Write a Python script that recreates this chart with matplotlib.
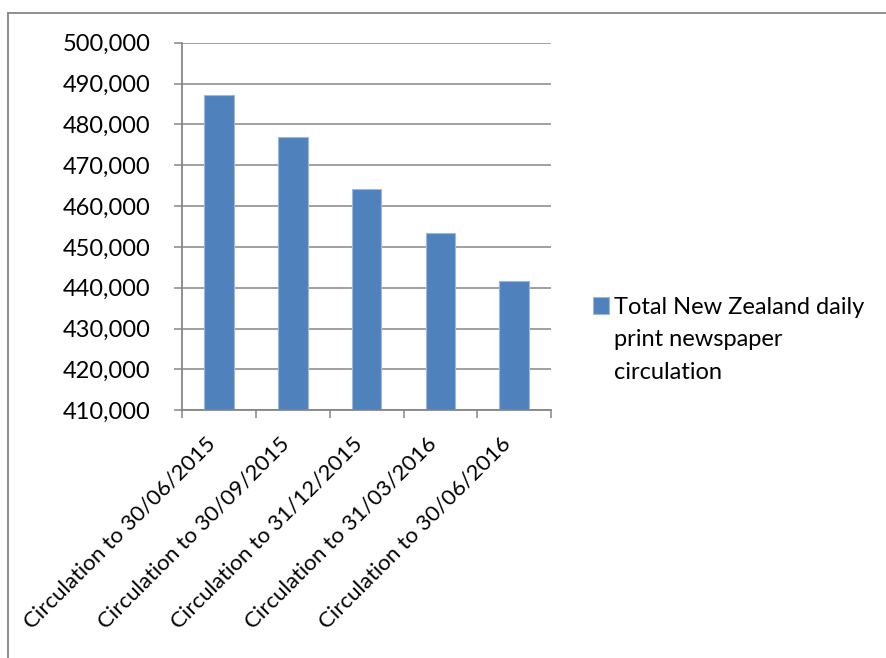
import matplotlib.pyplot as plt
from matplotlib.lines import Line2D
from matplotlib.ticker import FuncFormatter, MultipleLocator
import matplotlib.transforms as mtransforms

categories = [
    "Circulation to 30/06/2015",
    "Circulation to 30/09/2015",
    "Circulation to 31/12/2015",
    "Circulation to 31/03/2016",
    "Circulation to 30/06/2016",
]
circulation = [487100, 476800, 464200, 453300, 441700]
series_label = "Total New Zealand daily\nprint newspaper\ncirculation"

plt.rcParams["font.family"] = ["Lato", "DejaVu Sans"]
grey = "#868686"
bar_color = "#4F81BD"

fig = plt.figure(figsize=(8.87, 6.58), dpi=100)
ax = fig.add_axes([0.2055, 0.3764, 0.4157, 0.5587])

x = list(range(len(categories)))
bars = ax.bar(x, circulation, width=0.4, color=bar_color,
              edgecolor="#9BB8DE", linewidth=0.8, zorder=3)

ax.set_ylim(410000, 500000)
ax.set_xlim(-0.5, len(categories) - 0.5)
ax.yaxis.set_major_locator(MultipleLocator(10000))
ax.yaxis.set_major_formatter(FuncFormatter(lambda v, p: f"{v:,.0f}"))
ax.grid(axis="y", color=grey, linewidth=1.1, zorder=1)
ax.set_axisbelow(True)

for side in ["top", "right"]:
    ax.spines[side].set_visible(False)
for side in ["left", "bottom"]:
    ax.spines[side].set_color(grey)
    ax.spines[side].set_linewidth(1.3)
    ax.spines[side].set_zorder(4)

ax.tick_params(axis="y", length=6, width=1.1, color=grey, pad=17,
               labelsize=17, labelcolor="black")

# category labels at centres, tick marks at category boundaries
ax.set_xticks(x)
ax.set_xticklabels(categories, rotation=45, ha="right", va="center",
                   rotation_mode="anchor", fontsize=16)
ax.tick_params(axis="x", which="major", length=0, pad=22)
ax.set_xticks([i - 0.5 for i in range(len(categories) + 1)], minor=True)
ax.tick_params(axis="x", which="minor", length=6, width=1.1, color=grey)
shift = mtransforms.ScaledTranslation(-0.07, 0, fig.dpi_scale_trans)
for lab in ax.get_xticklabels():
    lab.set_transform(lab.get_transform() + shift)

leg = ax.legend([bars], [series_label], loc="upper left",
                bbox_to_anchor=(0.668, 0.548), bbox_transform=fig.transFigure,
                frameon=False, fontsize=17, handlelength=0.68,
                handleheight=0.68, handletextpad=0.25, borderpad=0,
                borderaxespad=0)
for t in leg.get_texts():
    t.set_linespacing(1.65)
# put the colour square next to the first line of the label
for column in leg._legend_handle_box.get_children():
    for row in column.get_children():
        row.align = "top"

# chart area border (top and left edges only visible)
fig.add_artist(Line2D([8 / 887, 8 / 887], [0, 1 - 13 / 658],
                      transform=fig.transFigure, color=grey, linewidth=1.3))
fig.add_artist(Line2D([8 / 887, 1], [1 - 13 / 658, 1 - 13 / 658],
                      transform=fig.transFigure, color=grey, linewidth=1.3))

fig.savefig("out.png", dpi=100)
